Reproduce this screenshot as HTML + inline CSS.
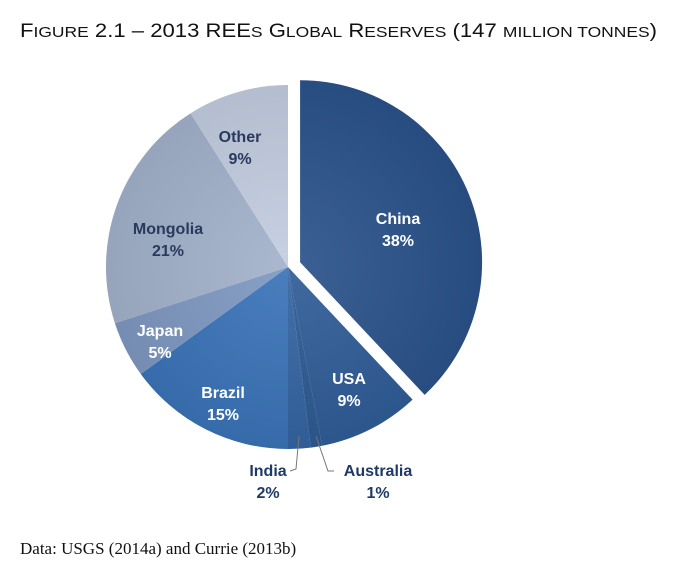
<!DOCTYPE html>
<html><head><meta charset="utf-8"><style>
html,body{margin:0;padding:0;background:#fff;width:680px;height:571px;overflow:hidden}
svg{display:block}
.lbl{font-family:"Liberation Sans",sans-serif;font-weight:bold;font-size:16px;text-anchor:middle}
</style></head><body>
<svg width="680" height="571" viewBox="0 0 680 571">
<defs>
<radialGradient id="shade" cx="288" cy="267" r="190" gradientUnits="userSpaceOnUse">
<stop offset="0" stop-color="#fff" stop-opacity="0.08"/><stop offset="1" stop-color="#000" stop-opacity="0.08"/>
</radialGradient>
</defs>
<text x="20" y="37" textLength="637" lengthAdjust="spacingAndGlyphs" font-family="Liberation Sans, sans-serif" font-size="19" fill="#111">F<tspan font-size="15">IGURE</tspan> 2.1 – 2013 REE<tspan font-size="15">S</tspan> G<tspan font-size="15">LOBAL</tspan> R<tspan font-size="15">ESERVES</tspan> (147 <tspan font-size="15">MILLION TONNES</tspan>)</text>
<g id="pie"></g>
<g stroke="#777" fill="none" stroke-width="1">
<polyline points="299,436 296,469 290,471"/>
<polyline points="316,436 328,471 334,471"/>
</g>
<text x="20" y="554" font-family="Liberation Serif, serif" font-size="17" fill="#111">Data: USGS (2014a) and Currie (2013b)</text>
</svg>
<script>
const categories=["China","USA","Australia","India","Brazil","Japan","Mongolia","Other"];
const values=[38,9,1,2,15,5,21,9];
const colors=["#2b538b","#2f5d97","#2d5b93","#3464a2","#3a73b8","#7e98c0","#a2b1cb","#c2cde0"];
const labelColors=["#fff","#fff",null,null,"#fff","#fff","#2a3a5c","#2a3a5c"];
const labelPos=[[398,224],[349,384],[378,476],[268,476],[223,398],[160,336],[168,234],[240,142]];
const ns="http://www.w3.org/2000/svg";
const g=document.getElementById('pie');
const cx=288,cy=267,r=182;
const total=values.reduce((a,b)=>a+b,0);
let a0=0;
values.forEach((v,i)=>{
  const a1=a0+v/total*2*Math.PI;
  let ox=0,oy=0;
  if(i===0){const m=(a0+a1)/2;ox=13*Math.sin(m);oy=-13*Math.cos(m);}
  const x0=cx+ox+r*Math.sin(a0),y0=cy+oy-r*Math.cos(a0);
  const x1=cx+ox+r*Math.sin(a1),y1=cy+oy-r*Math.cos(a1);
  const large=(a1-a0)>Math.PI?1:0;
  const d=`M${cx+ox},${cy+oy}L${x0},${y0}A${r},${r} 0 ${large} 1 ${x1},${y1}Z`;
  const p=document.createElementNS(ns,'path');
  p.setAttribute('d',d);p.setAttribute('fill',colors[i]);
  
  
  g.appendChild(p);
  const s=document.createElementNS(ns,'path');
  s.setAttribute('d',d);s.setAttribute('fill','url(#shade)');
  
  
  g.appendChild(s);
  const t=document.createElementNS(ns,'text');
  t.setAttribute('class','lbl');
  t.setAttribute('x',labelPos[i][0]);t.setAttribute('y',labelPos[i][1]);
  t.setAttribute('fill',labelColors[i]||'#1f3a66');
  
  
  const t1=document.createElementNS(ns,'tspan');t1.setAttribute('x',labelPos[i][0]);t1.textContent=categories[i];
  const t2=document.createElementNS(ns,'tspan');t2.setAttribute('x',labelPos[i][0]);t2.setAttribute('dy','22');t2.textContent=v+'%';
  t.appendChild(t1);t.appendChild(t2);
  g.appendChild(t);
  a0=a1;
});
</script>
</body></html>
